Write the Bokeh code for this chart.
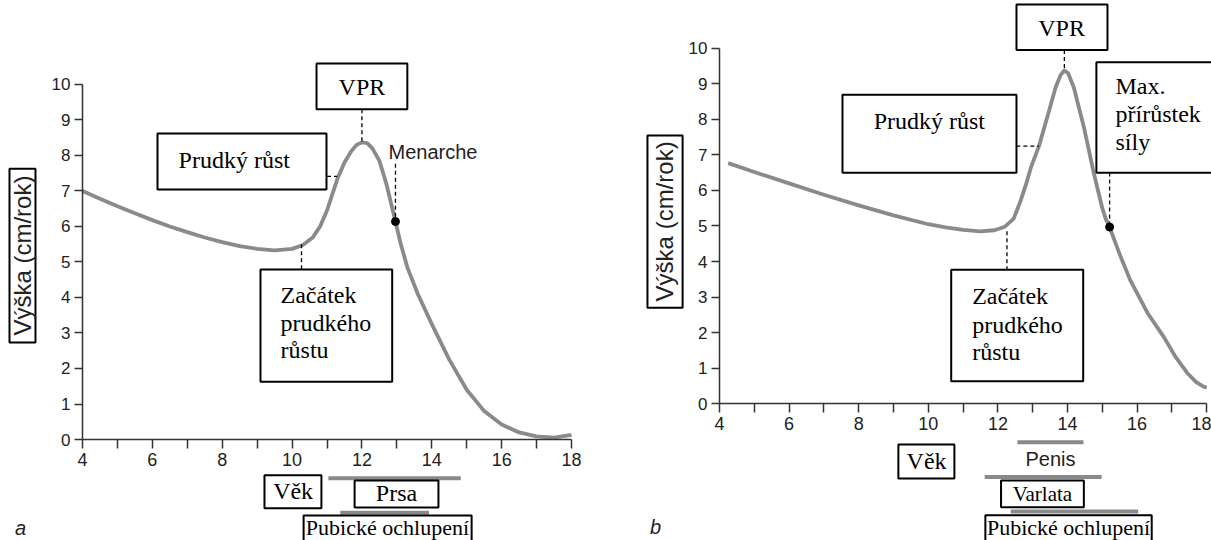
from math import pi
from bokeh.plotting import figure
from bokeh.layouts import row
from bokeh.models import LinearAxis, FixedTicker, Range1d
from bokeh.core.properties import value
from bokeh.embed import file_html
from bokeh.resources import INLINE

# ---------------- data ----------------
x_ticks = [4, 6, 8, 10, 12, 14, 16, 18]
x_minor = [5, 7, 9, 11, 13, 15, 17]
y_ticks = [0, 1, 2, 3, 4, 5, 6, 7, 8, 9, 10]

# (a) girls: height velocity (cm/year) by age
girls_age = [4.0, 4.5, 5.0, 5.5, 6.0, 6.5, 7.0, 7.5, 8.0, 8.5, 9.0, 9.5, 10.0, 10.3, 10.6,
             10.8, 11.0, 11.3, 11.5, 11.7, 11.85, 12.0, 12.15, 12.3, 12.5, 12.7, 12.96,
             13.1, 13.3, 13.6, 14.0, 14.5, 15.0, 15.5, 16.0, 16.5, 17.0, 17.5, 18.0]
girls_rate = [7.0, 6.78, 6.57, 6.37, 6.18, 6.0, 5.84, 5.69, 5.56, 5.45, 5.37, 5.33, 5.37, 5.47, 5.7,
              6.0, 6.45, 7.35, 7.8, 8.13, 8.3, 8.37, 8.35, 8.2, 7.85, 7.2, 6.14,
              5.55, 4.85, 4.1, 3.25, 2.25, 1.4, 0.8, 0.42, 0.2, 0.09, 0.05, 0.13]

# (b) boys
boys_age = [4.25, 5.0, 6.0, 7.0, 8.0, 9.0, 10.0, 10.5, 11.0, 11.5, 11.9, 12.2, 12.45, 12.65,
            12.8, 12.95, 13.18, 13.42, 13.66, 13.8, 13.91, 14.02, 14.18, 14.47, 14.76, 15.0,
            15.1, 15.21, 15.5, 15.81, 16.3, 16.77, 17.1, 17.44, 17.7, 17.92, 18.0]
boys_rate = [6.77, 6.52, 6.2, 5.88, 5.58, 5.3, 5.05, 4.96, 4.89, 4.85, 4.88, 4.98, 5.2, 5.7,
             6.15, 6.65, 7.25, 8.07, 8.91, 9.25, 9.38, 9.3, 8.91, 7.79, 6.47, 5.5,
             5.2, 4.97, 4.2, 3.46, 2.55, 1.87, 1.32, 0.86, 0.6, 0.47, 0.45]

menarche_age, menarche_rate = 12.96, 6.14
max_strength_age, max_strength_rate = 15.21, 4.97
girls_peak_age, girls_peak_rate = 12.0, 8.37
boys_peak_age, boys_peak_rate = 13.91, 9.38

# development ranges (start age, end age)
girls_stages = ["Prsa", "Pubické ochlupení"]
girls_start = [11.04, 11.38]
girls_end = [14.83, 13.92]
boys_stages = ["Penis", "Varlata", "Pubické ochlupení"]
boys_start = [12.56, 11.62, 12.37]
boys_end = [14.46, 14.98, 16.03]

# ---------------- styles ----------------
SERIF = value("Liberation Serif")
SANS = value("Liberation Sans")
CURVE = "#8a8a8a"
AXIS = "#333333"
H = 540


def make_fig(width, xr, yr):
    p = figure(width=width, height=H, x_range=Range1d(*xr), y_range=Range1d(*yr),
               output_backend="svg", toolbar_location=None,
               x_axis_type=None, y_axis_type=None, min_border=0)
    p.outline_line_color = None
    p.background_fill_color = "white"
    p.border_fill_color = "white"
    return p


def add_axes(p):
    ya = LinearAxis(fixed_location=4, bounds=(0, 10), ticker=FixedTicker(ticks=y_ticks))
    ya.axis_line_color = AXIS
    ya.axis_line_width = 1.5
    ya.major_tick_out = 8
    ya.major_tick_in = 0
    ya.major_tick_line_color = AXIS
    ya.major_tick_line_width = 1.5
    ya.minor_tick_line_color = None
    ya.major_label_text_font = "Liberation Sans"
    ya.major_label_text_font_size = "17px"
    ya.major_label_text_color = "#222222"
    ya.major_label_standoff = 4
    p.add_layout(ya, "left")

    xa = LinearAxis(fixed_location=0, bounds=(4, 18),
                    ticker=FixedTicker(ticks=x_ticks, minor_ticks=x_minor))
    xa.axis_line_color = AXIS
    xa.axis_line_width = 1.5
    xa.major_tick_out = 9
    xa.major_tick_in = 0
    xa.minor_tick_out = 9
    xa.minor_tick_in = 0
    xa.major_tick_line_color = AXIS
    xa.minor_tick_line_color = AXIS
    xa.major_tick_line_width = 1.5
    xa.minor_tick_line_width = 1.5
    xa.major_label_text_font = "Liberation Sans"
    xa.major_label_text_font_size = "18px"
    xa.major_label_text_color = "#222222"
    xa.major_label_standoff = 4
    p.add_layout(xa, "below")


def boxes(p, left, right, bottom, top):
    p.quad(left=left, right=right, bottom=bottom, top=top,
           fill_color="white", line_color="black", line_width=2)


def dashes(p, x0, y0, x1, y1):
    p.segment(x0=x0, y0=y0, x1=x1, y1=y1, line_color="black",
              line_width=1.3, line_dash="4 3")


def serif(p, x, y, t, align="left", size="24px"):
    p.text(x=x, y=y, text=t, text_font=SERIF, text_font_size=size,
           text_align=align, text_baseline="middle", text_color="black")


# ================= (a) girls =================
pa = make_fig(600, (1.6525, 18.8297), (-2.845, 12.366))
add_axes(pa)
pa.line(girls_age, girls_rate, line_color=CURVE, line_width=3.8, line_join="round")

dashes(pa, [girls_peak_age, 11.0, 10.27, menarche_age],
       [9.30, 7.41, 5.5, 7.77],
       [girls_peak_age, 11.29, 10.27, menarche_age],
       [girls_peak_rate, 7.41, 4.79, menarche_rate])
pa.scatter([menarche_age], [menarche_rate], size=8, color="black")

# girls development bars
pa.segment(x0=girls_start, y0=[-1.09, -2.065], x1=girls_end, y1=[-1.09, -2.065],
           line_color=CURVE, line_width=4)

boxes(pa, [10.70, 6.147, 9.096, 9.21, 11.79, 10.33, 1.91],
      [13.30, 10.985, 12.866, 10.84, 14.19, 15.14, 2.654],
      [9.30, 7.04, 1.63, -1.94, -1.915, -3.2, 2.73],
      [10.59, 8.62, 4.79, -1.01, -1.155, -2.14, 7.63])

serif(pa, [12.0], [9.94], ["VPR"], align="center")
serif(pa, [6.75], [7.86], ["Prudký růst"])
serif(pa, [9.67, 9.67, 9.67], [4.06, 3.27, 2.51], ["Začátek", "prudkého", "růstu"])
serif(pa, [10.03], [-1.46], ["Věk"], align="center")
serif(pa, [12.99], [-1.52], [girls_stages[0]], align="center")
serif(pa, [12.73], [-2.48], [girls_stages[1]], align="center", size="22px")

pa.text(x=[12.76], y=[8.11], text=["Menarche"], text_font=SANS, text_font_size="20px",
        text_baseline="middle", text_color="#222222")
pa.text(x=[2.282], y=[5.18], text=["Výška (cm/rok)"], angle=pi / 2, text_font=SANS,
        text_font_size="24px", text_align="center", text_baseline="middle",
        text_color="#222222")
pa.text(x=[2.225], y=[-2.48], text=["a"], text_font=SANS, text_font_style="italic",
        text_font_size="20px", text_align="center", text_baseline="middle",
        text_color="#222222")

# ================= (b) boys =================
pb = make_fig(611, (0.5805, 18.138), (-3.859, 11.352))
add_axes(pb)
pb.line(boys_age, boys_rate, line_color=CURVE, line_width=3.8, line_join="round")

dashes(pb, [boys_peak_age, 12.53, 12.26, max_strength_age],
       [9.96, 7.25, 4.85, 6.51],
       [boys_peak_age, 13.18, 12.26, max_strength_age],
       [boys_peak_rate, 7.25, 3.77, max_strength_rate])
pb.scatter([max_strength_age], [max_strength_rate], size=8, color="black")

pb.segment(x0=boys_start, y0=[-1.09, -2.07, -3.04], x1=boys_end, y1=[-1.09, -2.07, -3.04],
           line_color=CURVE, line_width=4)

boxes(pb, [12.534, 7.534, 14.83, 10.658, 9.14, 12.09, 11.64, 1.93],
      [15.149, 12.534, 18.6, 14.451, 10.75, 14.47, 16.42, 2.94],
      [9.96, 6.50, 6.50, 0.63, -2.11, -2.92, -4.2, 2.70],
      [11.24, 8.70, 9.61, 3.77, -1.155, -2.17, -3.15, 7.55])

serif(pb, [13.83], [10.59], ["VPR"], align="center")
serif(pb, [10.03], [7.97], ["Prudký růst"], align="center")
serif(pb, [15.38, 15.38, 15.38], [8.93, 8.16, 7.36], ["Max.", "přírůstek", "síly"])
serif(pb, [11.26, 11.26, 11.26], [3.04, 2.20, 1.45], ["Začátek", "prudkého", "růstu"])
serif(pb, [9.95], [-1.63], ["Věk"], align="center")
serif(pb, [13.28], [-2.54], [boys_stages[1]], align="center", size="21px")
serif(pb, [14.03], [-3.49], [boys_stages[2]], align="center", size="22px")

pb.text(x=[13.51], y=[-1.57], text=[boys_stages[0]], text_font=SANS, text_font_size="20px",
        text_align="center", text_baseline="middle", text_color="#222222")
pb.text(x=[2.43], y=[5.13], text=["Výška (cm/rok)"], angle=pi / 2, text_font=SANS,
        text_font_size="24px", text_align="center", text_baseline="middle",
        text_color="#222222")
pb.text(x=[2.16], y=[-3.49], text=["b"], text_font=SANS, text_font_style="italic",
        text_font_size="20px", text_align="center", text_baseline="middle",
        text_color="#222222")

layout = row(pa, pb, spacing=0)
open("out.html", "w").write(file_html(layout, INLINE))
